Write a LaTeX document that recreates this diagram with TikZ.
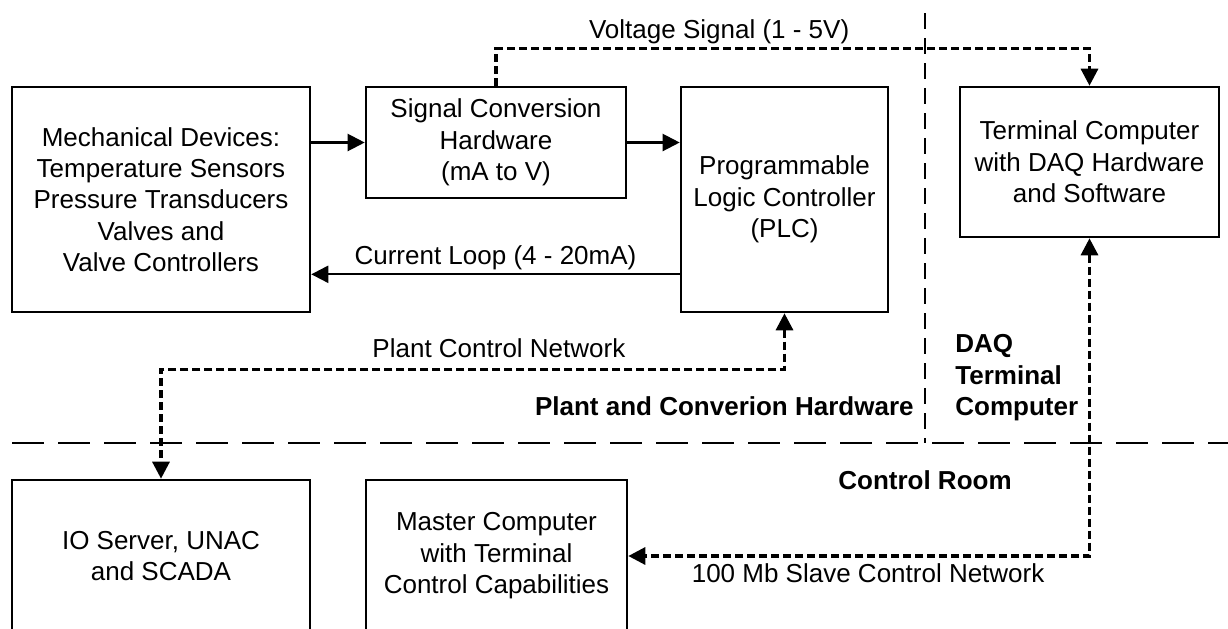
\documentclass[tikz,border=0pt]{standalone}
\usepackage{fontspec}
\setmainfont{Liberation Sans}
\usetikzlibrary{arrows.meta,positioning,calc}

\begin{document}
\begin{tikzpicture}[x=0.5pt, y=-0.5pt,
  >={Triangle[length=8.5pt,width=8.5pt]},
  box/.style={draw, line width=1.3pt, align=center, inner sep=0pt,
              font=\fontsize{13pt}{15.7pt}\selectfont},
  arr/.style={->, line width=1.1pt},
  net/.style={line width=1.6pt, dash pattern=on 4pt off 2pt},
  zone/.style={line width=1pt, dash pattern=on 16pt off 7pt},
  zonev/.style={line width=1pt, dash pattern=on 8pt off 4.5pt},
  lbl/.style={font=\fontsize{13pt}{15.7pt}\selectfont, inner sep=0pt,
              text height=0.72em, text depth=0pt},
  area/.style={font=\fontsize{13pt}{15.7pt}\selectfont\bfseries,
               inner sep=0pt, align=left}]

  \path[use as bounding box] (0,0) rectangle (1228,628);
  \clip (0,0) rectangle (1228,628);

  % plant side
  \node[box, minimum width=149pt,   minimum height=112.5pt] (mech) at (161,199.5)
    {Mechanical Devices:\\Temperature Sensors\\Pressure Transducers\\Valves and\\Valve Controllers};
  \node[box, minimum width=130pt,   minimum height=55.5pt]  (conv) at (496,142.5)
    {Signal Conversion\\Hardware\\(mA to V)};
  \node[box, minimum width=103.5pt, minimum height=112.5pt] (plc)  at (784.5,199.5)
    {Programmable\\Logic Controller\\(PLC)};
  \node[box, minimum width=129.5pt, minimum height=75pt]    (term) at (1089.5,162)
    {Terminal Computer\\with DAQ Hardware\\and Software};

  % control room, cut off by the page edge
  \node[box, minimum width=149pt,   minimum height=76pt] (io)     at (161,556)
    {IO Server, UNAC\\and SCADA};
  \node[box, minimum width=130.5pt, minimum height=76pt] (master) at (496.5,556)
    {Master Computer\\with Terminal\\Control Capabilities};

  % zone borders
  \coordinate (zl) at (12,443);
  \coordinate (zr) at (1228,443);
  \coordinate (zt) at (925,13);
  \draw[zone]  (zl) -- (zr);
  \draw[zonev] (zt) -- (zt |- zl);

  \node[area, anchor=east] (plant) at (914,406) {Plant and Converion Hardware};
  \node[area, anchor=west] (daq)   at (955,378) {DAQ\\Terminal\\Computer};
  \node[area]              (room)  at (925,480) {Control Room};

  % signal paths
  \draw[arr] (mech.east |- conv.west) -- (conv.west);
  \draw[arr] (conv.east) -- (conv.east -| plc.west);
  \coordinate (loop) at ($(plc.south west)+(0,-39)$);
  \draw[arr] (loop) -- node[lbl, above=4.5pt] {Current Loop (4 - 20mA)} (loop -| mech.east);

  \draw[net, ->] (conv.north) -- ++(0,-37)
    -| node[lbl, pos=0.188, above=4.5pt] {Voltage Signal (1 - 5V)} (term.north);

  \coordinate (pcn) at ($(plc.south)+(0,56)$);
  \draw[net, <->] (plc.south) -- (pcn)
    -| node[lbl, pos=0.229, above=5pt] {Plant Control Network} (io.north);

  \draw[net, <->] (term.south)
    |- node[lbl, pos=0.74, below=5pt] {100 Mb Slave Control Network} (master.east);
\end{tikzpicture}
\end{document}
